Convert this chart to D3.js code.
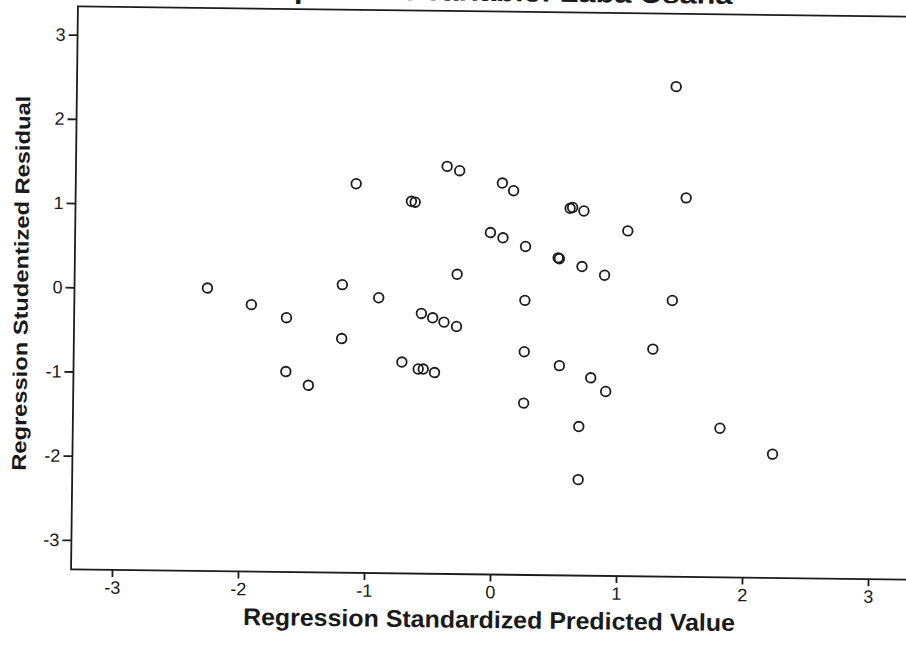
<!DOCTYPE html>
<html>
<head>
<meta charset="utf-8">
<script src="https://cdn.jsdelivr.net/npm/d3@7/dist/d3.min.js"></script>
<style>
  html, body { margin: 0; padding: 0; background: #ffffff; }
  svg { display: block; }
  text { font-family: "Liberation Sans", Arial, sans-serif; fill: #1a1a1a; }
</style>
</head>
<body>
<svg id="chart" width="906" height="646"></svg>
<script>
// ---- data ----
const titleText = "Dependent Variable: Laba Usaha";
const xTitle = "Regression Standardized Predicted Value";
const yTitle = "Regression Studentized Residual";
const tickValues = [-3, -2, -1, 0, 1, 2, 3];
const tickLabels = ["-3", "-2", "-1", "0", "1", "2", "3"];

const predicted = [
  1.43, 1.52, 0.06, 0.15, 0.60, 0.62, 0.71, 1.06, -0.03, 0.07,
  0.25, 0.51, 0.52, 0.70, 0.88, 0.25, 1.42, 0.25, 1.27, 0.53,
  0.78, 0.90, 0.25, 0.69, 0.69, 1.81, 2.23,
  -2.27, -1.92, -1.64, -1.64, -1.46, -1.10, -1.20, -1.20, -0.91, -0.66,
  -0.63, -0.38, -0.28, -0.29, -0.57, -0.48, -0.39, -0.29, -0.72, -0.59,
  -0.55, -0.46
];
const residual = [
  2.47, 1.15, 1.30, 1.21, 1.01, 1.02, 0.98, 0.75, 0.71, 0.65,
  0.55, 0.42, 0.41, 0.32, 0.22, -0.09, -0.07, -0.70, -0.65, -0.86,
  -1.00, -1.16, -1.31, -1.58, -2.21, -1.58, -1.88,
  0.01, -0.18, -0.33, -0.97, -1.13, 1.27, 0.07, -0.57, -0.08, 1.07,
  1.06, 1.49, 1.44, 0.21, -0.26, -0.31, -0.36, -0.41, -0.84, -0.92,
  -0.92, -0.96
];

// ---- layout ----
const svg = d3.select("#chart");
const plotLeft = 74.5, plotRight = 912.5, plotTop = 11.5, plotBottom = 574.5;
const ink = "#1c1c1c";

const x = d3.scaleLinear().domain([-3.325, 3.325]).range([plotLeft, plotRight]);
const y = d3.scaleLinear().domain([-3.35, 3.335]).range([plotBottom, plotTop]);

// the scan is slightly rotated
const g = svg.append("g").attr("transform", "rotate(0.7 490 290)");

// title (mostly cut off at top, as in the scan)
g.append("text")
  .attr("x", 490).attr("y", 1)
  .attr("text-anchor", "middle")
  .attr("font-size", 26).attr("font-weight", "bold")
  .attr("textLength", 478).attr("lengthAdjust", "spacingAndGlyphs")
  .text(titleText);

// frame
g.append("rect")
  .attr("x", plotLeft).attr("y", plotTop)
  .attr("width", plotRight - plotLeft).attr("height", plotBottom - plotTop)
  .attr("fill", "#ffffff")
  .attr("stroke", ink).attr("stroke-width", 1.8);

// y axis
const yAxis = g.append("g")
  .attr("transform", `translate(${plotLeft},0)`)
  .call(d3.axisLeft(y).tickValues(tickValues).tickSize(9).tickPadding(3)
        .tickFormat((d, i) => tickLabels[i]));
yAxis.select(".domain").remove();
yAxis.selectAll(".tick line").attr("stroke", ink).attr("stroke-width", 1.8);
yAxis.selectAll(".tick text").style("font-size", "18px").attr("fill", ink);

// x axis
const xAxis = g.append("g")
  .attr("transform", `translate(0,${plotBottom})`)
  .call(d3.axisBottom(x).tickValues(tickValues).tickSize(7).tickPadding(4)
        .tickFormat((d, i) => tickLabels[i]));
xAxis.select(".domain").remove();
xAxis.selectAll(".tick line").attr("stroke", ink).attr("stroke-width", 1.8);
xAxis.selectAll(".tick text").style("font-size", "18px").attr("fill", ink);

// axis titles
g.append("text")
  .attr("x", 493).attr("y", 628)
  .attr("text-anchor", "middle")
  .attr("font-size", 24).attr("font-weight", "bold")
  .attr("textLength", 492).attr("lengthAdjust", "spacingAndGlyphs")
  .text(xTitle);

g.append("text")
  .attr("transform", "translate(28,289) rotate(-90)")
  .attr("text-anchor", "middle")
  .attr("font-size", 20).attr("font-weight", "bold")
  .attr("textLength", 375).attr("lengthAdjust", "spacingAndGlyphs")
  .text(yTitle);

// points
g.append("g").selectAll("circle")
  .data(predicted.map((p, i) => [p, residual[i]]))
  .join("circle")
  .attr("cx", d => x(d[0]))
  .attr("cy", d => y(d[1]))
  .attr("r", 4.8)
  .attr("fill", "none")
  .attr("stroke", ink)
  .attr("stroke-width", 1.8);
</script>
</body>
</html>
